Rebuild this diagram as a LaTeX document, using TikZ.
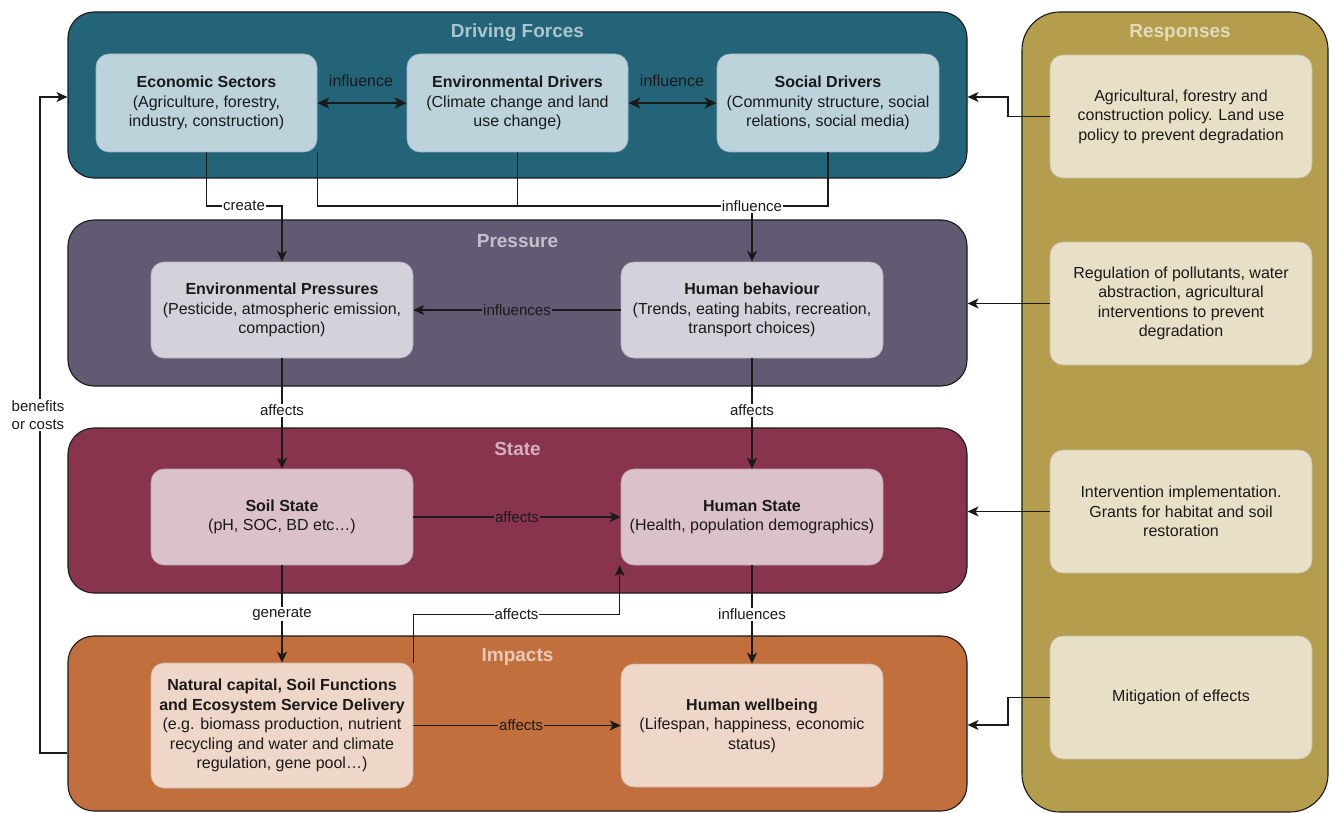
\documentclass[tikz,border=0pt]{standalone}
\usepackage{fontspec}
\setmainfont{Liberation Sans}
\usetikzlibrary{arrows.meta,calc}
\definecolor{dfpan}{HTML}{246479}
\definecolor{dfbox}{HTML}{BCD3DC}
\definecolor{prpan}{HTML}{625A72}
\definecolor{prbox}{HTML}{D4D1DA}
\definecolor{stpan}{HTML}{88344C}
\definecolor{stbox}{HTML}{DBC1CC}
\definecolor{impan}{HTML}{C26F3E}
\definecolor{imbox}{HTML}{EED7C8}
\definecolor{rspan}{HTML}{B49D4C}
\definecolor{rsbox}{HTML}{E8E0C6}
\definecolor{ink}{HTML}{1A1A1A}
\begin{document}
\begin{tikzpicture}[x=1pt,y=-1pt,
  panel/.style={draw=ink, line width=1.1pt, rounded corners=26pt, inner sep=0pt},
  ptitle/.style={font=\fontsize{19}{22}\selectfont\bfseries, inner sep=0pt},
  box/.style={rounded corners=13pt, inner sep=2pt, align=center, text=ink,
    font=\fontsize{16}{19.5}\selectfont, draw=#1!85!black, line width=0.6pt, fill=#1},
  conn/.style={draw=ink, line width=1.3pt},
  tip/.style={-{Stealth[length=11pt,width=10pt,inset=3pt]}},
  dtip/.style={line width=2pt, {Stealth[length=12pt,width=11pt,inset=3pt]}-{Stealth[length=12pt,width=11pt,inset=3pt]}},
  lab/.style={font=\fontsize{15}{18}\selectfont, inner sep=1pt, text=ink, align=center}]
\useasboundingbox (0,0) rectangle (1330,813);
\fill[white] (0,0) rectangle (1330,813);

% panels
\node[panel, fill=dfpan, minimum width=899pt, minimum height=166pt] (df) at (517.5,95) {};
\node[panel, fill=prpan, minimum width=899pt, minimum height=166pt] (pr) at (517.5,303) {};
\node[panel, fill=stpan, minimum width=899pt, minimum height=165pt] (st) at (517.5,510.5) {};
\node[panel, fill=impan, minimum width=899pt, minimum height=175pt] (im) at (517.5,723.5) {};
\node[panel, fill=rspan, minimum width=306pt, minimum height=800pt, rounded corners=38pt] (rs) at (1175,412) {};

% titles
\node[ptitle, text=white!62!dfpan] (tdf) at (517.5,33) {Driving Forces};
\node[ptitle, text=white!62!prpan] (tpr) at (517.5,241) {Pressure};
\node[ptitle, text=white!62!stpan] (tst) at (517.5,449) {State};
\node[ptitle, text=white!62!impan] (tim) at (517.5,657) {Impacts};
\node[ptitle, text=white!62!rspan] (trs) at (1180,33) {Responses};

% driving forces boxes
\node[box=dfbox, minimum width=221pt, minimum height=98pt] (econ) at (206.5,103)
  {\textbf{Economic Sectors}\\(Agriculture, forestry,\\industry, construction)};
\node[box=dfbox, minimum width=221pt, minimum height=98pt] (envd) at (517.5,103)
  {\textbf{Environmental Drivers}\\(Climate change and land\\use change)};
\node[box=dfbox, minimum width=222pt, minimum height=98pt] (soc) at (828,103)
  {\textbf{Social Drivers}\\(Community structure, social\\relations, social media)};

% pressure boxes
\node[box=prbox, minimum width=262pt, minimum height=96pt] (ep) at (282,310)
  {\textbf{Environmental Pressures}\\(Pesticide, atmospheric emission,\\compaction)};
\node[box=prbox, minimum width=262pt, minimum height=96pt] (hb) at (752,310)
  {\textbf{Human behaviour}\\(Trends, eating habits, recreation,\\transport choices)};

% state boxes
\node[box=stbox, minimum width=262pt, minimum height=96pt] (ss) at (282,517)
  {\textbf{Soil State}\\(pH, SOC, BD etc\dots)};
\node[box=stbox, minimum width=262pt, minimum height=96pt] (hs) at (752,517)
  {\textbf{Human State}\\(Health, population demographics)};

% impacts boxes
\node[box=imbox, minimum width=262pt, minimum height=125pt] (nc) at (282,725.5)
  {\textbf{Natural capital, Soil Functions}\\\textbf{and Ecosystem Service Delivery}\\(e.g. biomass production, nutrient\\recycling and water and climate\\regulation, gene pool\dots)};
\node[box=imbox, minimum width=262pt, minimum height=123pt] (hw) at (752,725.5)
  {\textbf{Human wellbeing}\\(Lifespan, happiness, economic\\status)};

% response boxes
\node[box=rsbox, minimum width=262pt, minimum height=123pt] (r1) at (1181,116.5)
  {Agricultural, forestry and\\construction policy. Land use\\policy to prevent degradation};
\node[box=rsbox, minimum width=262pt, minimum height=123pt] (r2) at (1181,303.5)
  {Regulation of pollutants, water\\abstraction, agricultural\\interventions to prevent\\degradation};
\node[box=rsbox, minimum width=262pt, minimum height=123pt] (r3) at (1181,511.5)
  {Intervention implementation.\\Grants for habitat and soil\\restoration};
\node[box=rsbox, minimum width=262pt, minimum height=123pt] (r4) at (1181,697.5)
  {Mitigation of effects};

% double arrows in driving forces
\draw[conn, dtip] (econ.east) -- (envd.west);
\node[lab, font=\fontsize{16}{19}\selectfont] (l1) at (361,81) {influence};
\draw[conn, dtip] (envd.east) -- (soc.west);
\node[lab, font=\fontsize{16}{19}\selectfont] (l2) at (672,81) {influence};

% create
\draw[conn, tip] (econ.south) |- (244,206) node[lab, fill=white] (lcreate) {create} -| (ep.north);

% influence merge
\coordinate (inf) at (752,206);
\draw[conn] (econ.south east) |- (inf);
\draw[conn] (envd.south) |- (inf);
\draw[conn] (soc.south) |- (inf);
\draw[conn, tip] (inf) -- (hb.north);
\node[lab, fill=white] (linf) at (inf) {influence};

% pressure level
\draw[conn, tip] (hb.west) -- node[lab, fill=prpan] (l3) {influences} (ep.east);
\draw[conn, tip] (ep.south) -- node[lab, fill=white, pos=0.47] (l4) {affects} (ss.north);
\draw[conn, tip] (hb.south) -- node[lab, fill=white, pos=0.47] (l5) {affects} (hs.north);

% state level
\draw[conn, tip] (ss.east) -- node[lab, fill=stpan] (l6) {affects} (hs.west);
\draw[conn, tip] (ss.south) -- node[lab, fill=white] (l7) {generate} (nc.north);
\draw[conn, tip] (hs.south) -- node[lab, fill=white] (l8) {influences} (hw.north);
\draw[conn, tip] (nc.north east) |- node[lab, fill=white, pos=0.75] (l9) {affects} ($(hs.south west)+(-1,49)$) -- ($(hs.south west)+(-1,0)$);

% impacts level
\draw[conn, tip] (nc.east) -- node[lab, fill=impan, pos=0.52] (l10) {affects} (hw.west);

% feedback benefits or costs
\draw[conn, tip] (im.west |- 0,753) -- (40,753) |- (df.west |- 0,97);
\node[lab, fill=white] (lbc) at (38,415) {benefits\\or costs};

% responses
\draw[conn, tip] (r1.west) -- (1008,116.5) |- (df.east |- 0,97);
\draw[conn, tip] (r2.west) -- (pr.east |- r2.west);
\draw[conn, tip] (r3.west) -- (st.east |- r3.west);
\draw[conn, tip] (r4.west) -- (1008,697.5) |- (im.east |- 0,725);
\end{tikzpicture}
\end{document}
